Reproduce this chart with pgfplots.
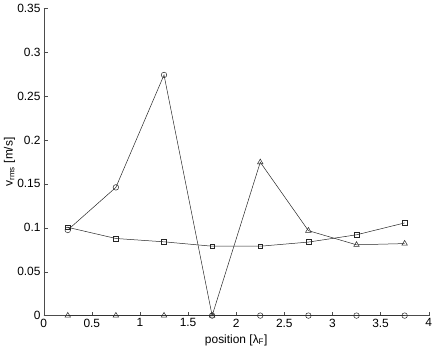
\documentclass[border=0pt]{standalone}
\usepackage{fontspec}
\setmainfont{Liberation Sans}
\usepackage{pgfplots}
\pgfplotsset{compat=1.18}

\begin{document}
\fontsize{12}{14}\selectfont
\begin{tikzpicture}
\begin{axis}[
    scale only axis,
    width=387pt, height=309pt,
    xmin=0, xmax=4, ymin=0, ymax=0.35,
    xtick={0,0.5,...,4},
    ytick={0,0.05,...,0.35},
    axis lines=left,
    axis line style={-, black!70},
    tick align=inside,
    major tick length=4pt,
    tick style={black!70},
    /pgf/number format/assume math mode=true,
    ticklabel style={font=\fontsize{12}{14}\selectfont},
    xticklabel style={yshift=1pt},
    yticklabel style={xshift=1pt, /pgf/number format/fixed, /pgf/number format/precision=2},
    scaled y ticks=false,
    xlabel={position [λ\textsubscript{F}]},
    ylabel={v\textsubscript{rms} [m/s]},
    label style={font=\fontsize{12}{14}\selectfont},
    xlabel style={yshift=1pt},
    ylabel style={yshift=-6pt},
    every axis plot/.append style={black!85, line width=0.5pt, mark size=2.8pt, mark options={solid, fill=none}},
    clip=false,
]
% circles
\addplot[mark=o] coordinates {
    (0.25,0.0975) (0.75,0.146) (1.25,0.274) (1.75,0)
    (2.25,0) (2.75,0) (3.25,0) (3.75,0)
};
% squares
\addplot[mark=square, mark size=2.4pt] coordinates {
    (0.25,0.1005) (0.75,0.0878) (1.25,0.0840) (1.75,0.0790)
    (2.25,0.0790) (2.75,0.0837) (3.25,0.0920) (3.75,0.1055)
};
% triangles
\addplot[mark=triangle, mark size=3.2pt] coordinates {
    (0.25,0) (0.75,0) (1.25,0) (1.75,0)
    (2.25,0.1746) (2.75,0.0967) (3.25,0.0806) (3.75,0.0820)
};
\end{axis}
\end{tikzpicture}
\end{document}
